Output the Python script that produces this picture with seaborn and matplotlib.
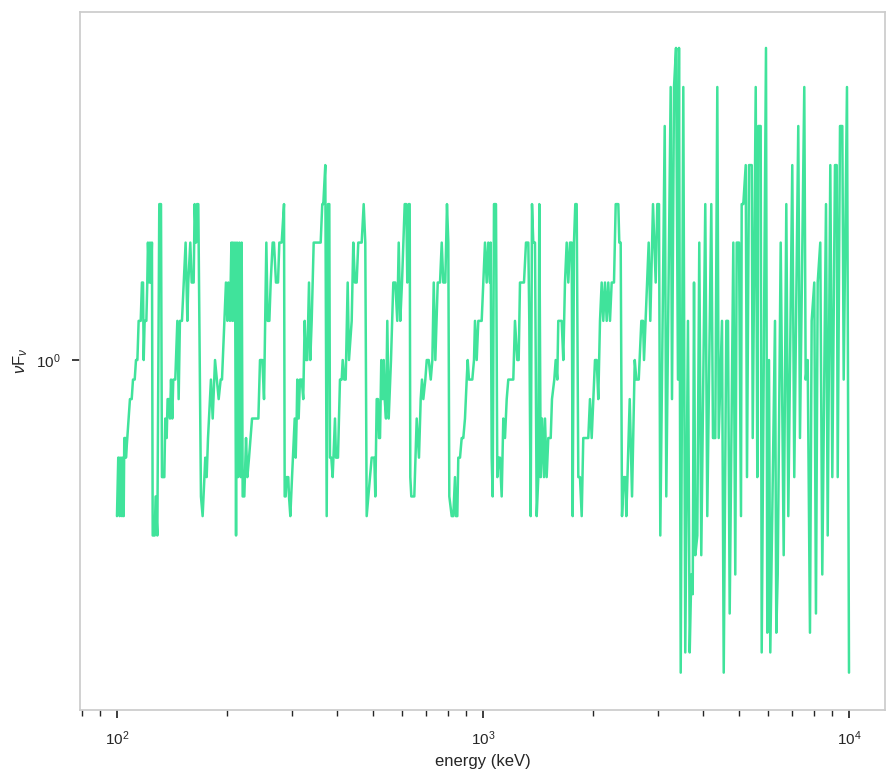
import matplotlib
matplotlib.use("Agg")
import matplotlib.pyplot as plt
from matplotlib.ticker import NullLocator
import seaborn as sns
import pandas as pd

# ---- data (energy in keV, nuFnu) ----
energy_kev = [
    100.0, 100.8, 101.3, 101.7, 102.5, 103.2, 103.6, 104.3, 104.7, 105.6, 105.8, 106.7,
    108.5, 109.7, 110.6, 111.8, 112.7, 113.7, 114.6, 116.1, 117.0, 117.8, 118.3, 119.0,
    120.3, 121.0, 121.5, 122.6, 123.1, 123.8, 124.6, 125.2, 126.8, 127.5, 128.9, 130.5,
    131.9, 132.7, 134.7, 135.5, 136.7, 137.5, 138.7, 139.6, 140.5, 141.6, 142.5, 144.3,
    146.2, 147.4, 148.6, 150.5, 154.0, 155.7, 156.6, 158.6, 160.0, 162.0, 163.0, 164.4,
    165.4, 166.8, 169.6, 171.4, 174.3, 175.8, 177.3, 180.6, 182.6, 185.3, 189.6, 192.0,
    193.6, 196.5, 198.5, 200.3, 201.5, 203.6, 205.4, 206.6, 207.5, 209.3, 210.1, 211.5,
    212.8, 214.1, 215.9, 217.8, 219.1, 220.5, 222.8, 225.2, 227.1, 229.5, 233.9, 243.4,
    245.9, 249.5, 252.2, 255.9, 258.1, 260.8, 263.0, 266.3, 268.5, 271.9, 275.4, 277.7,
    281.8, 286.0, 287.2, 289.0, 290.8, 293.8, 295.1, 297.6, 300.8, 305.9, 307.8, 309.7,
    310.9, 313.6, 316.2, 319.6, 322.8, 325.7, 328.4, 331.1, 334.7, 337.4, 340.4, 344.7,
    351.2, 360.2, 363.8, 366.2, 370.8, 374.1, 377.2, 380.3, 381.9, 385.1, 388.4, 394.1,
    396.6, 401.6, 406.7, 411.1, 413.7, 417.8, 421.6, 426.9, 430.4, 437.8, 442.2, 446.9,
    451.7, 456.3, 466.2, 472.1, 476.9, 481.1, 486.0, 491.2, 496.5, 504.7, 507.9, 512.4,
    516.6, 519.8, 523.2, 527.4, 532.1, 535.5, 538.8, 543.3, 547.7, 552.6, 560.6, 568.8,
    576.0, 583.2, 588.5, 594.3, 600.8, 611.1, 617.2, 621.2, 626.6, 630.6, 633.0, 637.0,
    649.1, 659.0, 668.5, 675.8, 681.3, 687.0, 695.8, 702.0, 710.8, 719.9, 727.2, 733.6,
    741.0, 752.2, 763.1, 771.4, 779.1, 788.9, 797.3, 804.0, 809.1, 821.3, 829.6, 838.5,
    843.7, 850.8, 856.1, 865.4, 874.6, 883.5, 892.9, 902.6, 908.2, 915.6, 935.0, 945.0,
    950.9, 961.2, 971.0, 991.8, 1002.0, 1012.7, 1023.5, 1033.9, 1045.0, 1049.5, 1056.3, 1062.9,
    1071.7, 1085.1, 1094.2, 1103.8, 1112.8, 1124.8, 1136.3, 1148.4, 1160.9, 1172.5, 1210.0, 1222.9,
    1240.8, 1251.7, 1262.1, 1294.2, 1310.7, 1329.9, 1338.2, 1350.0, 1361.2, 1372.2, 1387.2, 1401.9,
    1416.2, 1425.1, 1437.8, 1449.5, 1467.9, 1477.1, 1492.8, 1508.0, 1531.1, 1543.5, 1566.1, 1579.9,
    1595.9, 1605.9, 1640.6, 1657.3, 1674.9, 1693.1, 1710.4, 1728.6, 1747.0, 1758.3, 1772.5, 1787.3,
    1803.0, 1821.4, 1840.8, 1860.8, 1879.3, 1939.5, 1960.2, 1981.5, 2001.7, 2023.0, 2045.0, 2065.4,
    2087.8, 2110.0, 2131.5, 2154.4, 2177.7, 2199.5, 2223.3, 2247.0, 2279.9, 2304.7, 2342.7, 2357.3,
    2378, 2398, 2424, 2448, 2464, 2517, 2554, 2598, 2624, 2664, 2708, 2737,
    2754, 2836, 2865, 2914, 2964, 2994, 3026, 3051, 3137, 3168, 3257, 3284,
    3326, 3368, 3410, 3432, 3469, 3526, 3570, 3631, 3671, 3708, 3741, 3772,
    3803, 3851, 3899, 3948, 4049, 4100, 4205, 4250, 4312, 4367, 4406, 4498,
    4547, 4622, 4671, 4721, 4830, 4890, 4934, 5006, 5069, 5091, 5143, 5222,
    5264, 5331, 5423, 5457, 5561, 5617, 5652, 5737, 5774, 5932, 5981, 6045,
    6095, 6278, 6330, 6386, 6507, 6631, 6741, 6826, 6999, 7087, 7268, 7346,
    7548, 7614, 7711, 7823, 7907, 8038, 8123, 8212, 8347, 8453, 8653, 8746,
    8890, 9003, 9156, 9256, 9314, 9450, 9588, 9672, 9874, 10000,
]

nu_f_nu = [
    0.398, 0.562, 0.562, 0.398, 0.562, 0.398, 0.562, 0.398, 0.631, 0.631, 0.562, 0.631,
    0.794, 0.794, 0.891, 0.891, 1.0, 1.0, 1.26, 1.26, 1.58, 1.58, 1.0, 1.26,
    1.26, 1.58, 2.0, 1.58, 2.0, 1.58, 2.0, 0.355, 0.355, 0.447, 0.355, 2.51,
    2.51, 0.501, 0.501, 0.708, 0.631, 0.794, 0.794, 0.708, 0.891, 0.708, 0.891, 0.891,
    1.26, 0.794, 1.26, 1.26, 2.0, 1.26, 1.58, 2.0, 1.58, 1.58, 2.51, 2.0,
    2.51, 2.51, 0.447, 0.398, 0.562, 0.501, 0.631, 0.891, 0.708, 1.0, 0.794, 0.891,
    0.891, 1.26, 1.58, 1.26, 1.58, 1.26, 2.0, 1.26, 2.0, 1.26, 2.0, 0.355,
    2.0, 0.501, 2.0, 0.501, 2.0, 0.447, 0.447, 0.631, 0.501, 0.562, 0.708, 0.708,
    1.0, 1.0, 0.794, 2.0, 1.26, 1.26, 1.58, 2.0, 2.0, 1.58, 1.58, 2.0,
    2.0, 2.51, 0.447, 0.447, 0.501, 0.501, 0.447, 0.398, 0.501, 0.708, 0.562, 0.708,
    0.891, 0.708, 0.891, 0.891, 0.794, 1.26, 1.0, 1.0, 1.58, 1.0, 1.26, 2.0,
    2.0, 2.0, 2.51, 2.51, 3.16, 0.398, 2.51, 2.51, 0.562, 0.562, 0.501, 0.708,
    0.562, 0.562, 0.891, 0.891, 1.0, 0.891, 0.891, 1.58, 1.0, 1.26, 2.0, 1.58,
    1.58, 2.0, 2.0, 2.51, 2.0, 0.398, 0.447, 0.501, 0.562, 0.562, 0.447, 0.794,
    0.794, 0.631, 0.631, 1.0, 0.794, 1.0, 0.794, 0.708, 1.26, 0.708, 1.0, 1.58,
    1.58, 1.26, 2.0, 1.26, 1.58, 2.51, 2.51, 1.58, 2.51, 2.51, 0.501, 0.447,
    0.447, 0.708, 0.562, 0.794, 0.891, 0.794, 0.891, 1.0, 1.0, 0.891, 1.0, 1.58,
    1.0, 1.58, 1.58, 2.0, 1.58, 1.58, 2.51, 2.0, 0.447, 0.398, 0.398, 0.501,
    0.398, 0.398, 0.562, 0.562, 0.631, 0.631, 0.708, 0.891, 1.0, 0.891, 0.891, 1.0,
    1.26, 1.0, 1.26, 1.26, 1.58, 2.0, 1.58, 2.0, 1.58, 2.0, 0.562, 0.447,
    2.51, 2.51, 0.501, 0.562, 0.562, 0.447, 0.708, 0.631, 0.794, 0.891, 0.891, 1.26,
    1.0, 1.0, 1.58, 1.58, 2.0, 2.0, 1.26, 0.398, 2.51, 2.0, 2.0, 0.398,
    0.501, 2.51, 0.501, 0.708, 0.501, 0.708, 0.501, 0.631, 0.631, 0.794, 0.891, 1.0,
    0.891, 1.26, 1.26, 1.0, 1.58, 2.0, 1.58, 2.0, 2.0, 0.398, 2.0, 2.51,
    2.51, 0.501, 0.501, 0.398, 0.631, 0.631, 0.794, 0.631, 0.794, 1.0, 1.0, 0.794,
    1.26, 1.58, 1.26, 1.58, 1.26, 1.58, 1.26, 1.58, 1.58, 2.51, 2.51, 2.0,
    2.0, 0.398, 0.501, 0.501, 0.398, 0.794, 0.447, 1.0, 0.891, 0.891, 1.26, 1.26,
    1.0, 2.0, 1.26, 2.51, 1.58, 2.51, 2.51, 0.355, 3.98, 0.447, 5.01, 0.794,
    5.01, 6.31, 0.891, 6.31, 0.158, 5.01, 0.178, 1.26, 0.178, 0.282, 0.251, 1.58,
    0.316, 0.355, 2.0, 0.316, 2.51, 0.398, 2.51, 0.631, 0.631, 5.01, 0.631, 1.26,
    0.158, 1.26, 1.26, 0.224, 2.0, 0.282, 2.0, 2.0, 0.398, 2.51, 2.51, 3.16,
    0.501, 3.16, 3.16, 0.631, 5.01, 0.501, 3.98, 3.98, 0.178, 6.31, 0.200, 1.0,
    0.178, 1.26, 0.200, 0.282, 2.0, 0.316, 2.51, 0.398, 3.16, 0.501, 3.98, 0.631,
    5.01, 0.891, 1.0, 0.200, 1.26, 1.58, 0.224, 1.58, 2.0, 0.282, 2.51, 0.355,
    3.16, 0.501, 3.16, 3.16, 0.501, 3.98, 3.98, 0.891, 5.01, 0.158,
]

x_label = "energy (keV)"
y_label = r"$\nu$F$_{\nu}$"
line_color = "#40e39b"

# ---- style ----
sns.set_theme(context="notebook", style="ticks")
plt.rcParams.update({
    "axes.edgecolor": "0.8",
    "axes.linewidth": 1.25,
    "font.family": ["Liberation Sans", "DejaVu Sans"],
    "mathtext.fontset": "custom",
    "mathtext.rm": "Liberation Sans",
    "mathtext.it": "Liberation Sans:italic",
    "mathtext.bf": "Liberation Sans:bold",
    "xtick.color": "0.15",
    "ytick.color": "0.15",
    "xtick.major.pad": 8,
    "ytick.major.pad": 8,
})

df = pd.DataFrame({"energy": energy_kev, "nufnu": nu_f_nu})

fig = plt.figure(figsize=(8.95, 7.8), dpi=100)
ax = fig.add_axes([0.0894, 0.0897, 0.8994, 0.8949])

sns.lineplot(data=df, x="energy", y="nufnu", ax=ax, color=line_color,
             linewidth=1.8, estimator=None, sort=False)

ax.set_xscale("log")
ax.set_yscale("log")
ax.set_xlim(79.25, 12540)
ax.set_ylim(0.1267, 7.80)
ax.yaxis.set_minor_locator(NullLocator())

ax.set_xlabel(x_label, fontsize=12, color="0.15")
ax.set_ylabel(y_label, fontsize=12, color="0.15")

fig.savefig("out.png", dpi=100)
